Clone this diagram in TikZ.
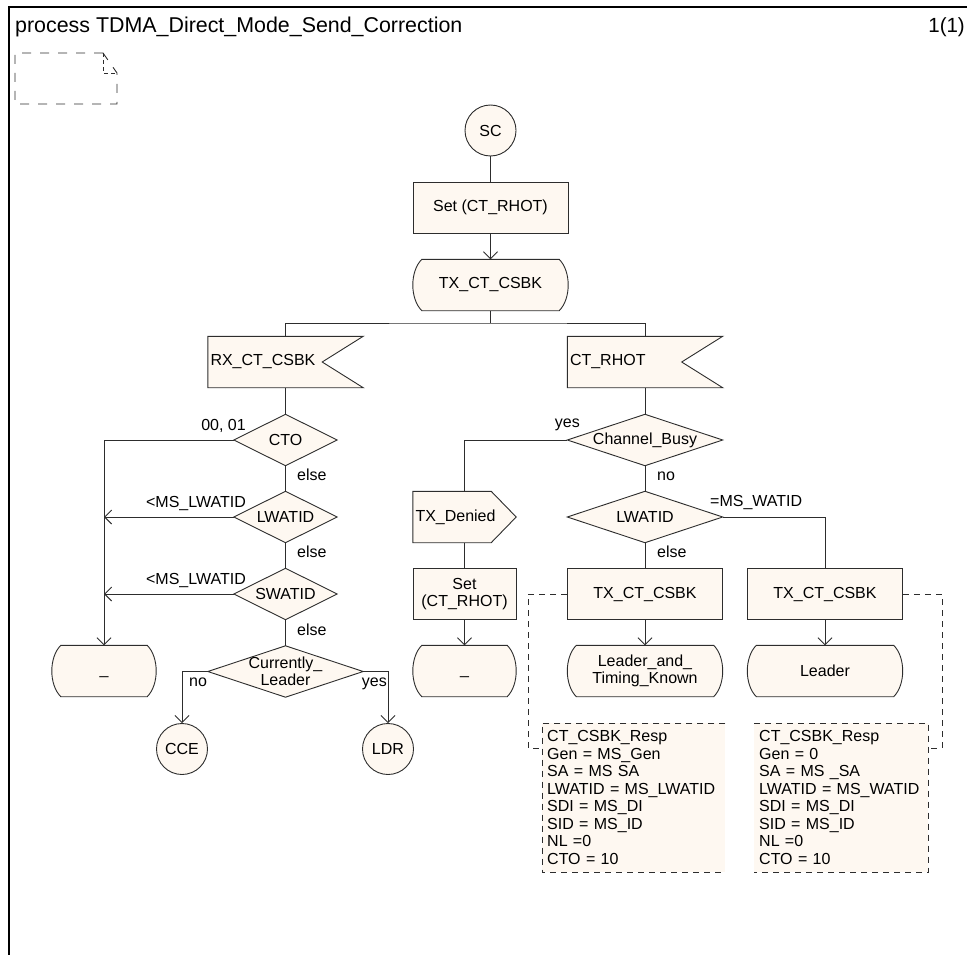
\documentclass[tikz,border=0pt]{standalone}
\usepackage{fontspec}
\setmainfont{Liberation Sans}
\usetikzlibrary{arrows.meta,backgrounds}

\definecolor{sdlfill}{RGB}{254,248,241}
\definecolor{sdlline}{RGB}{45,45,45}

\tikzset{
  sdl/.style={draw=none, minimum width=155pt, minimum height=51pt, inner sep=0pt,
    align=center, font=\fontsize{16}{17.5}\selectfont},
  taskbox/.style={sdl, draw=sdlline, fill=sdlfill, line width=0.9pt},
  statebox/.style={sdl},
  decbox/.style={sdl, minimum width=103pt},
  inbox/.style={sdl, text width=150pt, inner xsep=2.5pt, align=left},
  outbox/.style={sdl, minimum width=103pt, text width=98pt, inner xsep=2.5pt, align=left},
  startbox/.style={circle, draw=sdlline, fill=sdlfill, line width=0.9pt, minimum size=51pt,
    inner sep=0pt, font=\fontsize{16}{17.5}\selectfont},
  textbox/.style={fill=sdlfill, inner xsep=5pt, inner ysep=7.5pt, align=left,
    font=\fontsize{16}{17.5}\selectfont},
  lbl/.style={inner sep=0pt, font=\fontsize{16}{17.5}\selectfont},
  conn/.style={draw=sdlline, line width=0.9pt},
  arr/.style={-{Straight Barb[length=7pt,width=14pt]}},
  dashline/.style={dash pattern=on 6pt off 5pt}
}

% Umrisse der SDL-Symbole
\newcommand{\sdlstate}[1]{%
  \draw[conn, fill=sdlfill] ([xshift=9pt]#1.north west) -- ([xshift=-9pt]#1.north east)
    .. controls ([xshift=3pt,yshift=-12pt]#1.north east) and ([xshift=3pt,yshift=12pt]#1.south east) .. ([xshift=-9pt]#1.south east)
    -- ([xshift=9pt]#1.south west)
    .. controls ([xshift=-3pt,yshift=12pt]#1.south west) and ([xshift=-3pt,yshift=-12pt]#1.north west) .. ([xshift=9pt]#1.north west) -- cycle;}
\newcommand{\sdldec}[1]{%
  \draw[conn, fill=sdlfill] (#1.north) -- (#1.east) -- (#1.south) -- (#1.west) -- cycle;}
\newcommand{\sdlin}[1]{%
  \draw[conn, fill=sdlfill] (#1.north west) -- (#1.north east) -- ([xshift=-41pt]#1.east)
    -- (#1.south east) -- (#1.south west) -- cycle;}
\newcommand{\sdlout}[1]{%
  \draw[conn, fill=sdlfill] (#1.north west) -- ([xshift=-25pt]#1.north east) -- (#1.east)
    -- ([xshift=-25pt]#1.south east) -- (#1.south west) -- cycle;}

\begin{document}
\begin{tikzpicture}[x=1pt,y=-1pt]
\useasboundingbox (0,0) rectangle (967,955);
% Rahmen und Kopf:
\draw[line width=2pt] (8.5,955) -- (8.5,7.5) -- (967,7.5);
\node[anchor=base west, inner sep=0pt, font=\fontsize{21.4}{25}\selectfont] (title) at (15,33) {process TDMA\_Direct\_Mode\_Send\_Correction};
\node[anchor=base east, inner sep=0pt, font=\fontsize{20.5}{24}\selectfont] (page) at (965,33) {1(1)};
% Kommentarsymbol oben links:
\draw[conn, dash pattern=on 9pt off 9pt] (103,53) -- (15,53) -- (15,104) -- (117,104) -- (117,73) -- (103,53);
\draw[conn, dash pattern=on 4pt off 3pt] (103,53) -- (103,73) -- (117,73);

% Start:
\node[startbox] (sc) at (490.5,130.5) {SC};
\node[taskbox] (setrhot) at (490.5,207.5) {Set (CT\_RHOT)};
\node[statebox] (txcsbk) at (490.5,285) {TX\_CT\_CSBK};
\coordinate (br) at (490.5,323);
\node[inbox] (rxcsbk) at (285.5,362) {RX\_CT\_CSBK};
\node[inbox] (ctrhot) at (645,362) {CT\_RHOT};

% linker Zweig:
\node[decbox] (cto) at (285.5,440) {CTO};
\node[decbox] (lwatid) at (285.5,517) {LWATID};
\node[decbox] (swatid) at (285.5,594) {SWATID};
\node[decbox, minimum width=155pt] (curlead) at (285.5,671.5) {Currently\_\\Leader};
\node[statebox, minimum width=104pt] (samel) at (104,671) {\strut\_};
\node[startbox] (cce) at (182,749) {CCE};
\node[startbox] (ldr) at (388,749) {LDR};

% rechter Zweig:
\node[decbox, minimum width=155pt] (chbusy) at (645,440) {Channel\_Busy};
\node[outbox] (txden) at (464.5,517) {TX\_Denied};
\node[taskbox, minimum width=103pt] (setrhotb) at (464.5,594) {Set\\(CT\_RHOT)};
\node[statebox, minimum width=103pt] (samem) at (464.5,671) {\strut\_};
\node[decbox, minimum width=155pt] (lwatidb) at (645,517) {LWATID};
\node[taskbox] (txcsl) at (645,594) {TX\_CT\_CSBK};
\node[taskbox] (txcsr) at (825,594) {TX\_CT\_CSBK};
\node[statebox] (known) at (645,671) {Leader\_and\_\\Timing\_Known};
\node[statebox] (leader) at (825,671) {Leader};

% Textsymbole:
\node[textbox, text width=173pt, anchor=north west] (respl) at (542,723) {CT\_CSBK\_Resp\\Gen = MS\_Gen\\SA = MS SA\\LWATID = MS\_LWATID\\SDI = MS\_DI\\SID = MS\_ID\\NL =0\\CTO = 10};
\node[textbox, text width=164pt, anchor=north west] (respr) at (754,723) {CT\_CSBK\_Resp\\Gen = 0\\SA = MS \_SA\\LWATID = MS\_WATID\\SDI = MS\_DI\\SID = MS\_ID\\NL =0\\CTO = 10};
\draw[conn, dashline] (respl.north east) -- (respl.north west) -- (respl.south west) -- (respl.south east);
\draw[conn, dashline] (respr.north west) -- (respr.north east) -- (respr.south east) -- (respr.south west);

% Umrisse hinter dem Text:
\begin{scope}[on background layer]
\foreach \n in {txcsbk,samel,samem,known,leader} {\sdlstate{\n}}
\foreach \n in {cto,lwatid,swatid,curlead,chbusy,lwatidb} {\sdldec{\n}}
\sdlin{rxcsbk}
\sdlin{ctrhot}
\sdlout{txden}
\end{scope}

% Verbindungen oben:
\draw[conn] (sc) -- (setrhot);
\draw[conn, arr] (setrhot) -- (txcsbk);
\draw[conn] (txcsbk) -- (br);
\draw[conn] (rxcsbk.north) |- (br) -| (ctrhot.north);
% links:
\draw[conn] (rxcsbk) -- (cto);
\draw[conn] (cto) -- (lwatid);
\draw[conn] (lwatid) -- (swatid);
\draw[conn] (swatid) -- (curlead);
\draw[conn, arr] (cto.west) -| (samel.north);
\draw[conn, arr] (lwatid.west) -- (lwatid.west -| samel.north);
\draw[conn, arr] (swatid.west) -- (swatid.west -| samel.north);
\draw[conn, arr] (curlead.west) -| (cce.north);
\draw[conn, arr] (curlead.east) -| (ldr.north);
% rechts:
\draw[conn] (ctrhot) -- (chbusy);
\draw[conn] (chbusy.west) -| (txden.north);
\draw[conn] (txden) -- (setrhotb);
\draw[conn, arr] (setrhotb) -- (samem);
\draw[conn] (chbusy) -- (lwatidb);
\draw[conn] (lwatidb) -- (txcsl);
\draw[conn] (lwatidb.east) -| (txcsr.north);
\draw[conn, arr] (txcsl) -- (known);
\draw[conn, arr] (txcsr) -- (leader);
% gestrichelt zu den Textsymbolen:
\draw[conn, dashline] (txcsl.west) -- ++(-39,0) |- ([yshift=-25pt]respl.north west);
\draw[conn, dashline] (txcsr.east) -- ++(39,0) |- ([yshift=-25pt]respr.north east);

% Beschriftungen:
\node[lbl, anchor=base east] (l0001) at (246,430) {00, 01};
\node[lbl, anchor=base west] (lelsea) at (297,480) {else};
\node[lbl, anchor=base east] (lltb) at (246,507) {<MS\_LWATID};
\node[lbl, anchor=base west] (lelseb) at (297,557) {else};
\node[lbl, anchor=base east] (lltc) at (246,584) {<MS\_LWATID};
\node[lbl, anchor=base west] (lelsec) at (297,635) {else};
\node[lbl, anchor=base west] (lnoa) at (189,686) {no};
\node[lbl, anchor=base east] (lyesa) at (387,686) {yes};
\node[lbl, anchor=base east] (lyesb) at (580,427) {yes};
\node[lbl, anchor=base west] (lnob) at (657,480) {no};
\node[lbl, anchor=base west] (leqw) at (710,506) {=MS\_WATID};
\node[lbl, anchor=base west] (lelsed) at (657,557) {else};
\end{tikzpicture}
\end{document}
